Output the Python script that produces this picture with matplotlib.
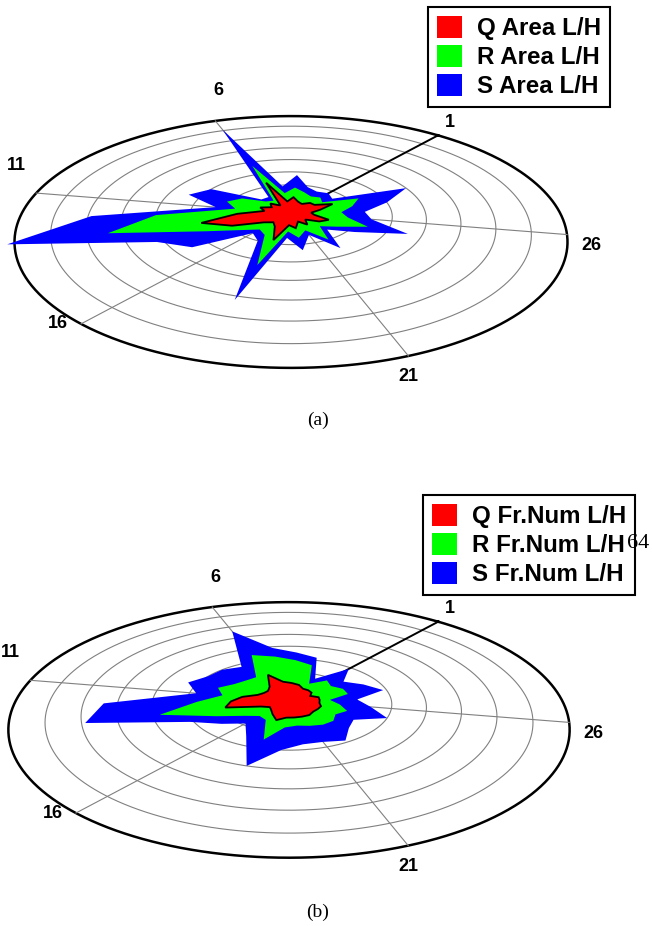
import numpy as np
import matplotlib
matplotlib.use("Agg")
import matplotlib.pyplot as plt
from matplotlib.patches import Patch

# 30 directions, values in ring units (outer ring = 8)
spokes = np.arange(1, 31)
tick_spokes = [1, 6, 11, 16, 21, 26]
r_max = 8

q_area = [0.9, 0.7, 0.8, 1.1, 0.8, 2.3, 0.6, 0.9, 0.7, 1.0, 0.8, 1.6, 2.7, 1.9, 1.0,
          0.8, 1.0, 1.8, 0.8, 1.0, 0.6, 0.9, 0.6, 1.0, 1.2, 0.7, 0.6, 0.9, 1.4, 0.9]
r_area = [1.4, 1.3, 1.5, 1.8, 1.4, 3.7, 1.0, 1.1, 1.8, 2.1, 1.7, 4.0, 5.4, 2.7, 1.8,
          1.4, 1.6, 3.3, 1.2, 1.6, 1.2, 2.0, 1.2, 1.6, 2.4, 1.7, 1.5, 1.9, 2.3, 1.2]
s_area = [1.8, 1.7, 1.9, 2.75, 1.9, 7.1, 1.3, 1.3, 3.0, 3.4, 2.3, 5.9, 8.2, 4.2, 3.5,
          1.7, 2.0, 5.2, 1.6, 2.35, 1.5, 2.6, 1.5, 2.2, 3.6, 2.4, 2.2, 3.0, 4.0, 1.6]

q_num = [0.9, 0.9, 1.1, 1.2, 1.3, 1.9, 1.1, 0.9, 0.9, 1.0, 1.4, 1.7, 1.9, 0.9, 0.7,
         0.8, 1.0, 1.3, 1.1, 1.1, 1.1, 1.1, 1.0, 1.0, 1.0, 0.9, 0.9, 0.9, 0.7, 0.85]
r_num = [1.8, 1.3, 2.6, 2.9, 3.2, 3.5, 1.9, 1.9, 2.0, 2.3, 2.0, 2.7, 3.8, 2.3, 1.6,
         1.3, 1.4, 2.5, 1.7, 1.6, 1.7, 1.8, 1.8, 1.6, 1.8, 1.5, 1.2, 1.8, 1.8, 1.6]
s_num = [2.9, 1.7, 3.2, 3.5, 3.9, 5.6, 2.8, 3.0, 3.0, 3.3, 2.8, 5.4, 5.9, 3.1, 2.4,
         1.9, 2.5, 4.0, 3.0, 2.7, 2.7, 2.9, 2.4, 2.2, 3.0, 2.4, 2.0, 2.9, 2.5, 2.1]

area_labels = ["Q Area L/H", "R Area L/H", "S Area L/H"]
num_labels = ["Q Fr.Num L/H", "R Fr.Num L/H", "S Fr.Num L/H"]
colors = ["#ff0000", "#00ff00", "#0000ff"]

# perspective camera looking down on the polar plane (units: pixels)
F = 1047.5
DIST = 3.893
TILT = np.radians(26.3)
START = 50.0  # angle of spoke 1, degrees


def project(r, k, cx, cy, scale=1.0):
    th = np.radians(START + 12.0 * (np.asarray(k, float) - 1))
    rr = np.asarray(r, float) / r_max
    X = rr * np.cos(th)
    Y = rr * np.sin(th)
    d = DIST + np.cos(TILT) * Y
    return cx + scale * F * X / d, cy - scale * F * np.sin(TILT) * Y / d


# label offsets from the end of each spoke, in pixels
label_off = {1: (12, 13), 6: (3, 30), 11: (-20, 28), 16: (-23, 0), 21: (0, -21), 26: (24, -11)}

fig = plt.figure(figsize=(6.52, 9.26), dpi=100)
ax = fig.add_axes([0, 0, 1, 1])
ax.set_xlim(0, 652)
ax.set_ylim(926, 0)
ax.axis("off")


def draw_panel(cx, cy, scale, series):
    kk = np.linspace(1, 31, 400)
    for ring in range(1, r_max):
        x, y = project(np.full(kk.shape, ring), kk, cx, cy, scale)
        ax.plot(x, y, color="#808080", lw=0.8, zorder=1)
    x, y = project(np.full(kk.shape, r_max), kk, cx, cy, scale)
    ax.plot(x, y, color="black", lw=1.8, zorder=1)
    for s in tick_spokes:
        x, y = project([0, r_max], [s, s], cx, cy, scale)
        if s == 1:
            ax.plot(x, y, color="black", lw=1.4, zorder=1.5)
        else:
            ax.plot(x, y, color="#808080", lw=0.8, zorder=1)
        ax.annotate(str(s), (x[1], y[1]), xytext=label_off[s], textcoords="offset pixels",
                    ha="center", va="center", fontsize=13, fontweight="bold",
                    family="Liberation Sans")
    # largest first so the smaller ones stay on top
    for vals, col, z in zip(series[::-1], colors[::-1], [2, 3, 4]):
        v = list(vals) + [vals[0]]
        k = list(spokes) + [spokes[0]]
        x, y = project(v, k, cx, cy, scale)
        if col == "#ff0000":
            ax.fill(x, y, facecolor=col, edgecolor="black", lw=1.3, zorder=z)
        else:
            ax.fill(x, y, facecolor=col, edgecolor="none", zorder=z)


draw_panel(291, 213, 1.0, [q_area, r_area, s_area])
draw_panel(289, 700.5, 1.015, [q_num, r_num, s_num])

leg_font = dict(family="Liberation Sans", weight="bold", size=17.4)


def make_legend(labels, anchor):
    handles = [Patch(facecolor=c, edgecolor="none") for c in colors]
    leg = ax.legend(handles, labels, loc="upper right", bbox_to_anchor=anchor,
                    bbox_transform=fig.transFigure, prop=leg_font, fancybox=False,
                    framealpha=1, edgecolor="black", handlelength=1.03, handleheight=1.03,
                    handletextpad=0.6, labelspacing=0.18, borderpad=0.38, borderaxespad=0)
    leg.get_frame().set_linewidth(1.5)
    return leg


leg_a = make_legend(area_labels, (610 / 652, 1 - 7 / 926))
ax.add_artist(leg_a)
make_legend(num_labels, (635 / 652, 1 - 495 / 926))

ax.text(318, 420, "(a)", ha="center", va="center", fontsize=14, family="Liberation Serif")
ax.text(318, 912, "(b)", ha="center", va="center", fontsize=14, family="Liberation Serif")
ax.text(627, 544, "64", ha="left", va="center", fontsize=16, family="Liberation Serif",
        zorder=10)

fig.savefig("out.png", dpi=100)
